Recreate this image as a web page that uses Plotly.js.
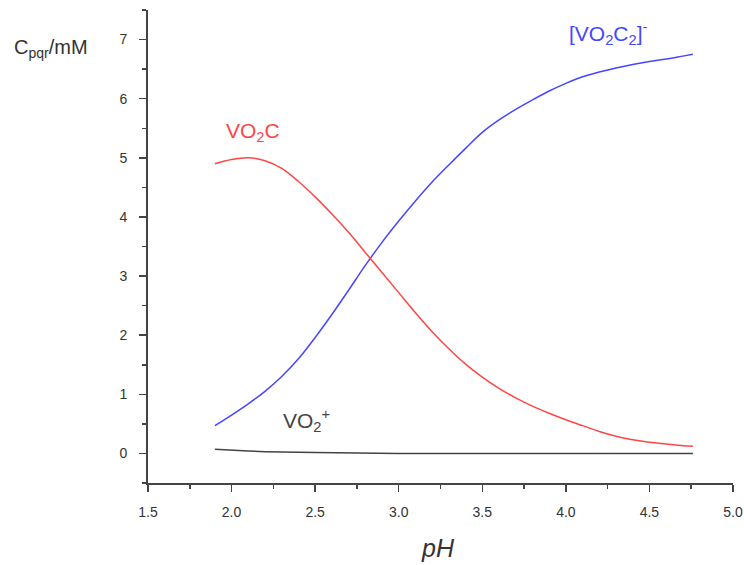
<!DOCTYPE html>
<html>
<head>
<meta charset="utf-8">
<script src="https://cdn.plot.ly/plotly-3.0.1.min.js"></script>
<style>html,body{margin:0;padding:0;background:#fff;}</style>
</head>
<body>
<div id="chart" style="width:744px;height:565px;"></div>
<script>
const pH = [1.90,2.00,2.10,2.20,2.30,2.40,2.50,2.60,2.70,2.80,2.90,3.00,3.10,3.20,3.30,3.40,3.50,3.60,3.70,3.80,3.90,4.00,4.10,4.20,4.30,4.40,4.50,4.60,4.70,4.76];
const vo2c2 = [0.47,0.65,0.84,1.05,1.30,1.60,1.96,2.35,2.76,3.18,3.57,3.93,4.27,4.59,4.88,5.16,5.43,5.64,5.82,5.98,6.13,6.26,6.37,6.45,6.52,6.58,6.63,6.67,6.72,6.75];
const vo2c = [4.90,4.97,5.00,4.95,4.82,4.60,4.34,4.05,3.74,3.40,3.06,2.72,2.38,2.06,1.77,1.51,1.29,1.10,0.94,0.80,0.68,0.57,0.47,0.37,0.29,0.23,0.19,0.16,0.13,0.12];
const vo2 = [0.07,0.05,0.04,0.03,0.02,0.02,0.015,0.01,0.01,0.005,0.0,0.0,0.0,0.0,0.0,0.0,0.0,0.0,0.0,0.0,0.0,0.0,0.0,0.0,0.0,0.0,0.0,0.0,0.0,0.0];
const xTicks = [1.5,2.0,2.5,3.0,3.5,4.0,4.5,5.0];
const xTickText = ['1.5','2.0','2.5','3.0','3.5','4.0','4.5','5.0'];

const font = 'Liberation Sans, Arial, sans-serif';
const traces = [
  {x: pH, y: vo2c2, mode: 'lines', line: {color: '#4646ff', width: 1.5, shape: 'spline', smoothing: 1}, name: '[VO2C2]-'},
  {x: pH, y: vo2c, mode: 'lines', line: {color: '#ff4646', width: 1.5, shape: 'spline', smoothing: 1}, name: 'VO2C'},
  {x: pH, y: vo2, mode: 'lines', line: {color: '#444444', width: 1.5}, name: 'VO2+'}
];
const axisCommon = {
  showline: true, linecolor: '#444', linewidth: 2, ticks: 'outside', ticklen: 7, tickwidth: 1.5, tickcolor: '#444',
  showgrid: false, zeroline: false, tickfont: {family: font, size: 14, color: '#333'}
};
const layout = {
  width: 744, height: 565,
  margin: {l: 148, r: 11, t: 10, b: 82},
  paper_bgcolor: '#fff', plot_bgcolor: '#fff',
  showlegend: false,
  font: {family: font},
  xaxis: Object.assign({}, axisCommon, {
    range: [1.5, 5.0], tickvals: xTicks, ticktext: xTickText, ticklabelstandoff: 8,
    minor: {dtick: 0.25, tick0: 1.5, ticks: 'outside', ticklen: 4, tickwidth: 1.5, tickcolor: '#444'}
  }),
  yaxis: Object.assign({}, axisCommon, {
    range: [-0.5, 7.5], dtick: 1, tick0: 0, ticklabelstandoff: 9,
    minor: {dtick: 0.5, tick0: 0, ticks: 'outside', ticklen: 4, tickwidth: 1.5, tickcolor: '#444'}
  }),
  annotations: [
    {xref: 'paper', yref: 'paper', x: 0.496, y: -0.137, xanchor: 'center', yanchor: 'middle', showarrow: false,
     text: '<i>pH</i>', font: {family: font, size: 25, color: '#333'}},
    {xref: 'paper', yref: 'paper', x: -0.233, y: 0.918, xanchor: 'left', yanchor: 'middle', showarrow: false,
     text: 'C<sub>pqr</sub>/mM', font: {family: font, size: 20, color: '#333'}},
    {xref: 'paper', yref: 'paper', x: 0.716, y: 0.951, xanchor: 'left', yanchor: 'middle', showarrow: false,
     text: '[VO<sub>2</sub>C<sub>2</sub>]<sup>-</sup>', font: {family: font, size: 21, color: '#4646ff'}},
    {xref: 'paper', yref: 'paper', x: 0.13, y: 0.742, xanchor: 'left', yanchor: 'middle', showarrow: false,
     text: 'VO<sub>2</sub>C', font: {family: font, size: 21, color: '#ff4646'}},
    {xref: 'paper', yref: 'paper', x: 0.227, y: 0.133, xanchor: 'left', yanchor: 'middle', showarrow: false,
     text: 'VO<sub>2</sub><sup>+</sup>', font: {family: font, size: 21, color: '#444'}}
  ]
};
Plotly.newPlot('chart', traces, layout, {displayModeBar: false, staticPlot: true});
</script>
</body>
</html>
